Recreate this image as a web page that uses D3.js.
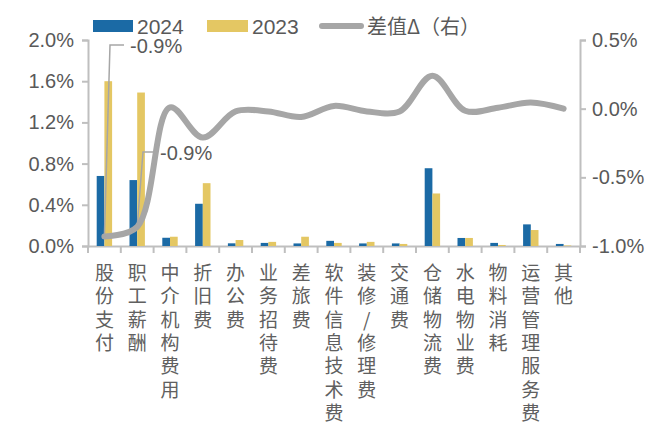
<!DOCTYPE html>
<html>
<head>
<meta charset="utf-8">
<script src="https://d3js.org/d3.v7.min.js"></script>
<style>
body { margin: 0; background: #fff; }
text { font-family: "Liberation Sans", Arial, sans-serif; fill: #595959; }
.cat { font-family: "Noto Sans CJK SC", sans-serif; font-size: 19px; fill: #606060; }
</style>
</head>
<body>
<svg width="663" height="427"></svg>
<script>
// categories along the x axis
var categories = ["股份支付", "职工薪酬", "中介机构费用", "折旧费", "办公费", "业务招待费", "差旅费",
  "软件信息技术费", "装修/修理费", "交通费", "仓储物流费", "水电物业费", "物料消耗", "运营管理服务费", "其他"];

// share of revenue, %
var values2024 = [0.68, 0.64, 0.08, 0.41, 0.026, 0.03, 0.025, 0.05, 0.025, 0.025, 0.755, 0.078, 0.03, 0.21, 0.02];
var values2023 = [1.60, 1.49, 0.09, 0.61, 0.058, 0.04, 0.09, 0.03, 0.04, 0.02, 0.51, 0.078, 0.01, 0.155, 0.005];
// difference (right axis), %
var diffValues = [-0.93, -0.86, 0.01, -0.21, -0.02, -0.02, -0.06, 0.02, -0.02, -0.02, 0.24, -0.015, 0.007, 0.045, 0.0];

var leftTicks = [0, 0.4, 0.8, 1.2, 1.6, 2.0];
var rightTicks = [-1.0, -0.5, 0.0, 0.5];

var svg = d3.select("svg");

// plot area edges
var plotLeft = 88, plotRight = 580, plotTop = 40, plotBottom = 246;

var x = d3.scaleBand()
  .domain(categories)
  .range([plotLeft, plotRight]);

var yL = d3.scaleLinear().domain([0, 2.0]).range([plotBottom, plotTop]);
var yR = d3.scaleLinear().domain([-1.0, 0.5]).range([plotBottom, plotTop]);

var barW = 7.7;

// axes
var axisColor = "#bfbfbf";

var gL = svg.append("g").attr("transform", "translate(" + plotLeft + ",0)")
  .call(d3.axisLeft(yL).tickValues(leftTicks).tickSize(6).tickPadding(8)
    .tickFormat(function (d) { return d.toFixed(1) + "%"; }));
var gR = svg.append("g").attr("transform", "translate(" + plotRight + ",0)")
  .call(d3.axisRight(yR).tickValues(rightTicks).tickSize(6).tickPadding(6)
    .tickFormat(function (d) { return d.toFixed(1) + "%"; }));
var gB = svg.append("g").attr("transform", "translate(0," + plotBottom + ")")
  .call(d3.axisBottom(x).tickValues([]).tickSizeOuter(0));

// tick marks at band edges on the bottom axis
gB.selectAll("line.edge").data(d3.range(categories.length + 1)).enter()
  .append("line")
  .attr("class", "edge")
  .attr("x1", function (d) { return plotLeft + d * x.step(); })
  .attr("x2", function (d) { return plotLeft + d * x.step(); })
  .attr("y1", 0).attr("y2", 7);

[gL, gR, gB].forEach(function (g) {
  g.selectAll("path, line").attr("stroke", axisColor).attr("stroke-width", 2);
  g.selectAll("text").style("font-size", "20px").attr("fill", "#595959")
    .style("font-family", "Liberation Sans, Arial, sans-serif");
});

// bars
svg.selectAll("rect.b24").data(values2024).enter()
  .append("rect")
  .attr("class", "b24")
  .attr("x", function (d, i) { return x(categories[i]) + x.bandwidth() / 2 - barW; })
  .attr("y", function (d) { return yL(d); })
  .attr("width", barW)
  .attr("height", function (d) { return plotBottom - yL(d); })
  .attr("fill", "#1b6aa5");

svg.selectAll("rect.b23").data(values2023).enter()
  .append("rect")
  .attr("class", "b23")
  .attr("x", function (d, i) { return x(categories[i]) + x.bandwidth() / 2; })
  .attr("y", function (d) { return yL(d); })
  .attr("width", barW)
  .attr("height", function (d) { return plotBottom - yL(d); })
  .attr("fill", "#e4c763");

// difference line, smoothed like the spreadsheet
var line = d3.line()
  .x(function (d, i) { return x(categories[i]) + x.bandwidth() / 2; })
  .y(function (d) { return yR(d); })
  .curve(d3.curveCatmullRom.alpha(0.5));

svg.append("path")
  .datum(diffValues)
  .attr("d", line)
  .attr("fill", "none")
  .attr("stroke", "#a6a6a6")
  .attr("stroke-width", 6)
  .attr("stroke-linecap", "round");

// data labels with leader lines for the first two points
var labelled = [
  { i: 0, lx: 110, ly: 45, hx: 124, tx: 130 },
  { i: 1, lx: 143, ly: 152, hx: 154, tx: 160 }
];
labelled.forEach(function (a) {
  var px = x(categories[a.i]) + x.bandwidth() / 2;
  var py = yR(diffValues[a.i]);
  svg.append("polyline")
    .attr("points", [[px, py], [a.lx, a.ly], [a.hx, a.ly]].map(function (p) { return p.join(","); }).join(" "))
    .attr("fill", "none")
    .attr("stroke", "#a6a6a6")
    .attr("stroke-width", 1.5);
  svg.append("text")
    .attr("x", a.tx)
    .attr("y", a.ly + 8)
    .style("font-size", "20px")
    .text(diffValues[a.i].toFixed(1) + "%");
});

// vertical category labels, one character per row
categories.forEach(function (c, i) {
  var cx = x(c) + x.bandwidth() / 2;
  svg.selectAll(null).data(c.split("")).enter()
    .append("text")
    .attr("class", "cat")
    .attr("x", cx)
    .attr("y", function (ch, j) { return 280 + j * 23.3; })
    .attr("text-anchor", "middle")
    .text(function (ch) { return ch; });
});

// legend
var legend = svg.append("g");
legend.append("rect").attr("x", 93).attr("y", 20).attr("width", 40).attr("height", 12).attr("fill", "#1b6aa5");
legend.append("text").attr("x", 137).attr("y", 34).style("font-size", "21px").text("2024");
legend.append("rect").attr("x", 207).attr("y", 20).attr("width", 41).attr("height", 12).attr("fill", "#e4c763");
legend.append("text").attr("x", 252).attr("y", 34).style("font-size", "21px").text("2023");
legend.append("line").attr("x1", 322).attr("x2", 361).attr("y1", 26).attr("y2", 26)
  .attr("stroke", "#a6a6a6").attr("stroke-width", 6).attr("stroke-linecap", "round");
legend.append("text").attr("x", 367).attr("y", 34).style("font-size", "20px")
  .style("font-family", "Noto Sans CJK SC, sans-serif").text("差值Δ（右）");
</script>
</body>
</html>
